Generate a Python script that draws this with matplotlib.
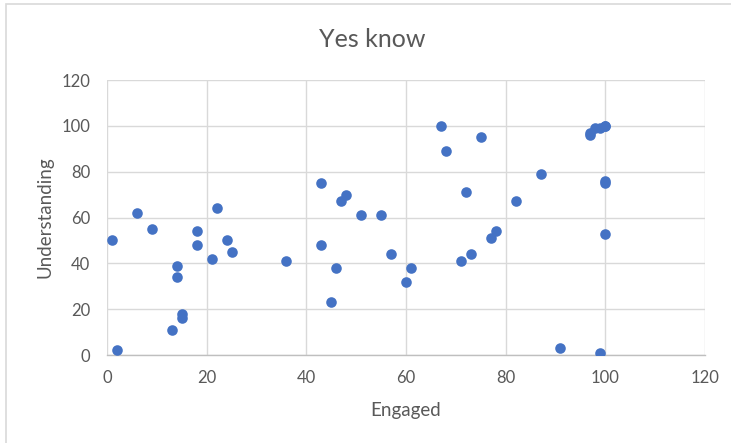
import matplotlib
matplotlib.use("Agg")
import matplotlib.pyplot as plt
from matplotlib.patches import Rectangle

# Engagement vs. understanding scores
engaged = [1, 2, 6, 9, 13, 14, 14, 15, 15, 18, 18, 21, 22, 24, 25, 36,
           43, 43, 45, 46, 47, 48, 51, 55, 57, 60, 61, 67, 68, 71, 72, 73,
           75, 77, 78, 82, 87, 91, 97, 97, 98, 99, 100, 100, 100, 100, 100, 99]
understanding = [50, 2, 62, 55, 11, 39, 34, 18, 16, 54, 48, 42, 64, 50, 45, 41,
                 75, 48, 23, 38, 67, 70, 61, 61, 44, 32, 38, 100, 89, 41, 71, 44,
                 95, 51, 54, 67, 79, 3, 96, 97, 99, 99, 100, 100, 76, 75, 53, 1]

title = "Yes know"
x_label = "Engaged"
y_label = "Understanding"
x_ticks = [0, 20, 40, 60, 80, 100, 120]
y_ticks = [0, 20, 40, 60, 80, 100, 120]

plt.rcParams["font.family"] = ["Lato", "DejaVu Sans"]

fig = plt.figure(figsize=(7.31, 4.43), dpi=100)
fig.patch.set_facecolor("white")
fig.add_artist(Rectangle((0.008, -0.05), 1.1, 1.04, transform=fig.transFigure,
                         fill=False, edgecolor="#d9d9d9", linewidth=1.2))

ax = fig.add_axes([0.1464, 0.1986, 0.8180, 0.6208])
ax.scatter(engaged, understanding, s=58, color="#4472C4", zorder=3, linewidths=0)

ax.set_xlim(0, 120)
ax.set_ylim(0, 120)
ax.set_xticks(x_ticks)
ax.set_yticks(y_ticks)
ax.grid(True, color="#d9d9d9", linewidth=1)
ax.set_axisbelow(True)
for side in ["top", "right", "left"]:
    ax.spines[side].set_visible(False)
ax.spines["bottom"].set_color("#bfbfbf")
ax.spines["bottom"].set_linewidth(1)
ax.tick_params(length=0, labelsize=12, labelcolor="#595959")
ax.tick_params(axis="x", pad=11)
ax.tick_params(axis="y", pad=12)

ax.set_xlabel(x_label, fontsize=13.5, color="#595959")
ax.set_ylabel(y_label, fontsize=13.5, color="#595959")
ax.xaxis.set_label_coords(0.5, -0.17)
ax.yaxis.set_label_coords(-0.090, 0.5)
fig.text(0.509, 0.91, title, ha="center", va="center", fontsize=18, color="#595959")

fig.savefig("out.png", dpi=100)
